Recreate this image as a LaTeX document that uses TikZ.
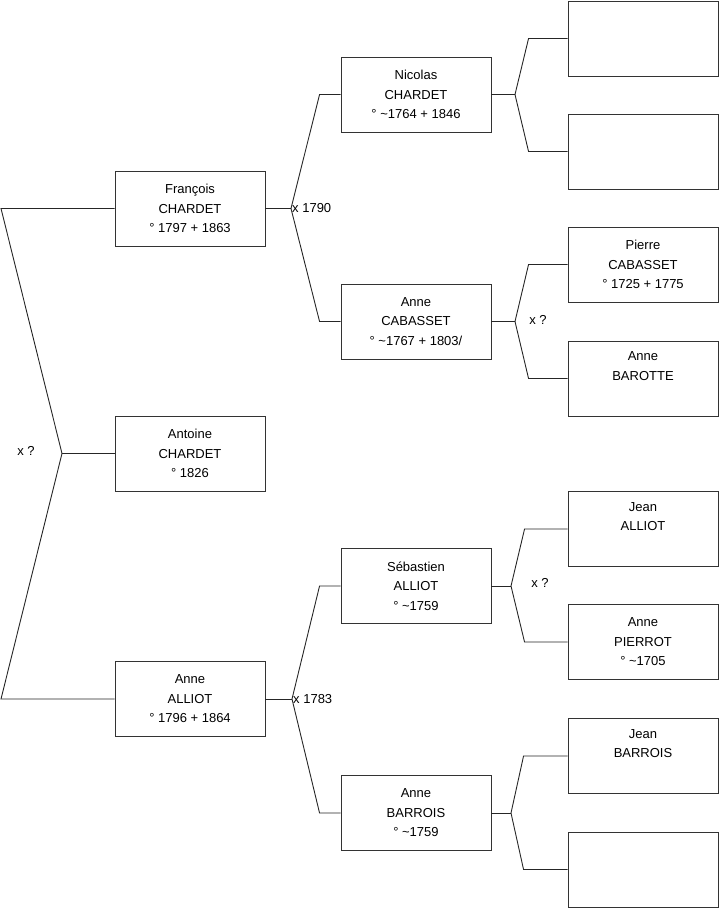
\documentclass[tikz,border=0pt]{standalone}
\usepackage{fontspec}
\setmainfont{Liberation Sans}
\begin{document}
\begin{tikzpicture}[x=1pt,y=-1pt,
  person/.style={draw=black!80,line width=0.9pt,rectangle,minimum width=150pt,minimum height=75pt,inner sep=0pt,align=center,font=\fontsize{13}{19.5}\selectfont},
  link/.style={draw=black!85,line width=0.9pt},
  lab/.style={font=\fontsize{13}{15}\selectfont,inner sep=1pt}]
\useasboundingbox (0,0) rectangle (719,908);
% left column
\node[person] (fr) at (190,208.5) {François\\CHARDET\\° 1797 + 1863};
\node[person] (an) at (190,453.5) {Antoine\\CHARDET\\° 1826};
\node[person] (al) at (190,699) {Anne\\ALLIOT\\° 1796 + 1864};
% middle column
\node[person] (ni) at (416,94.5) {Nicolas\\CHARDET\\° \textasciitilde1764 + 1846};
\node[person] (ca) at (416,321.5) {Anne\\CABASSET\\° \textasciitilde1767 + 1803/};
\node[person] (se) at (416,586) {Sébastien\\ALLIOT\\° \textasciitilde1759};
\node[person] (ba) at (416,813) {Anne\\BARROIS\\° \textasciitilde1759};
% right column
\node[person] (r1) at (643,38.5) {};
\node[person] (r2) at (643,151.5) {};
\node[person] (r3) at (643,264.5) {Pierre\\CABASSET\\° 1725 + 1775};
\node[person] (r4) at (643,378.5) {Anne\\BAROTTE\\\strut};
\node[person] (r5) at (643,529) {Jean\\ALLIOT\\\strut};
\node[person] (r6) at (643,642) {Anne\\PIERROT\\° \textasciitilde1705};
\node[person] (r7) at (643,756) {Jean\\BARROIS\\\strut};
\node[person] (r8) at (643,869.5) {};
% left bracket
\coordinate (L1) at (1,208.5);
\coordinate (Lf) at (62,453.5);
\coordinate (L2) at (1,699);
\draw[link] (fr.west) -- (L1) -- (Lf) -- (L2) -- (al.west);
\draw[link] (Lf) -- (an.west);
\node[lab] (lx) at (26,451) {x ?};
% forks
\coordinate (Ff) at (291,208.5);
\coordinate (Af) at (292,699);
\coordinate (Nf) at (515,94.5);
\coordinate (Cf) at (515,321.5);
\coordinate (Sf) at (511,586);
\coordinate (Bf) at (511,813);
\draw[link] (fr.east) -- (Ff);
\draw[link] (ni.west) -- ([xshift=-21pt]ni.west) -- (Ff) -- ([xshift=-21pt]ca.west) -- (ca.west);
\draw[link] (al.east) -- (Af);
\draw[link] (se.west) -- ([xshift=-21pt]se.west) -- (Af) -- ([xshift=-21pt]ba.west) -- (ba.west);
\draw[link] (ni.east) -- (Nf);
\draw[link] (r1.west) -- ([xshift=-39pt]r1.west) -- (Nf) -- ([xshift=-39pt]r2.west) -- (r2.west);
\draw[link] (ca.east) -- (Cf);
\draw[link] (r3.west) -- ([xshift=-39pt]r3.west) -- (Cf) -- ([xshift=-39pt]r4.west) -- (r4.west);
\draw[link] (se.east) -- (Sf);
\draw[link] (r5.west) -- ([xshift=-43pt]r5.west) -- (Sf) -- ([xshift=-43pt]r6.west) -- (r6.west);
\draw[link] (ba.east) -- (Bf);
\draw[link] (r7.west) -- ([xshift=-44pt]r7.west) -- (Bf) -- ([xshift=-44pt]r8.west) -- (r8.west);
% labels
\node[lab,anchor=west] (l1790) at (Ff) {x 1790};
\node[lab,anchor=west] (l1783) at (Af) {x 1783};
\node[lab] (lc) at (538,320) {x ?};
\node[lab] (ls) at (540,583) {x ?};
\end{tikzpicture}
\end{document}
